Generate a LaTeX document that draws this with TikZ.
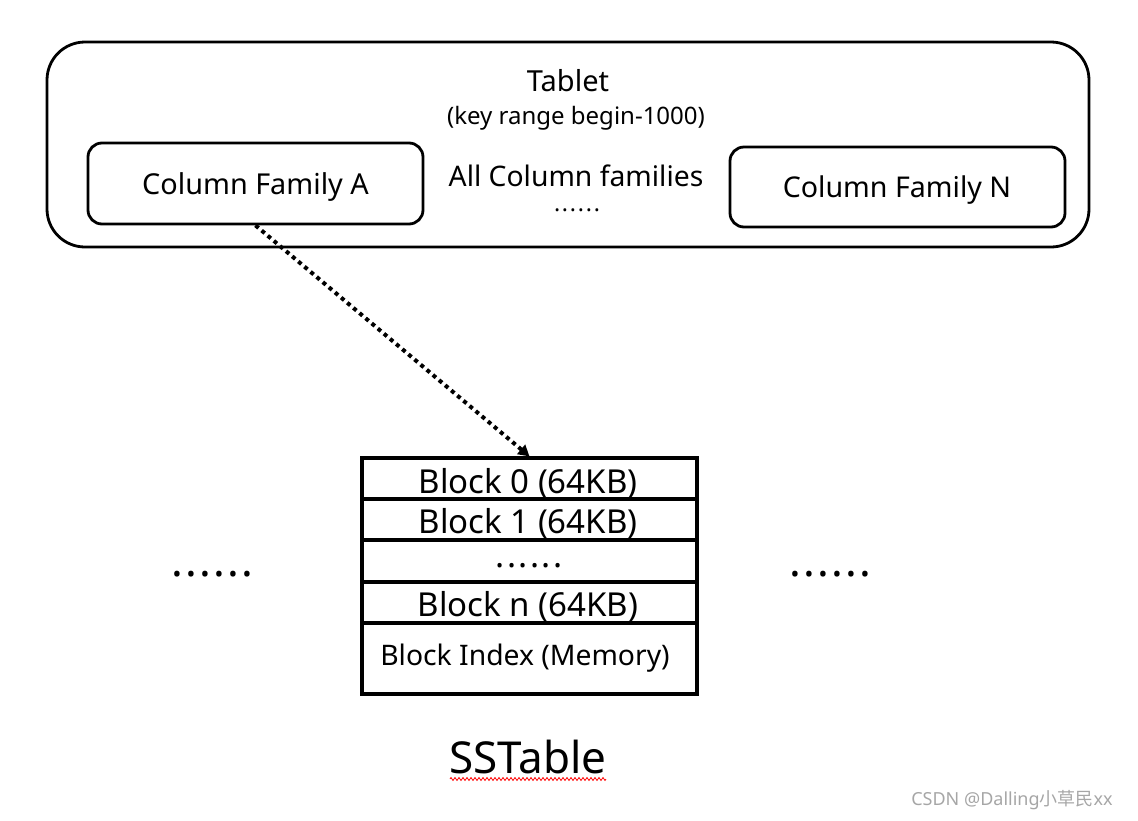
\documentclass[tikz,border=0pt]{standalone}
\usepackage{fontspec}
\setmainfont{Noto Sans}
\newfontfamily\cjkfont{Noto Sans CJK SC}
\usetikzlibrary{arrows.meta,decorations.pathmorphing,calc}
\newcommand{\spdots}[1]{.\kern#1.\kern#1.\kern#1.\kern#1.\kern#1.}
\begin{document}
\begin{tikzpicture}[x=1pt,y=-1pt,
  roundbox/.style={draw,line width=2.8pt,rounded corners=14pt,inner sep=0pt},
  rowbox/.style={draw,line width=3.2pt,minimum width=335pt,inner sep=0pt},
  capt/.style={inner sep=0pt,text depth=0pt,text height=#1},
  dotsline/.style={inner sep=0pt,text depth=0pt,text height=0pt}]
\useasboundingbox (0,0) rectangle (1138,820);
% outer tablet
\node[draw,line width=2.8pt,rounded corners=38pt,minimum width=1042pt,minimum height=205pt,inner sep=0pt] (tablet) at (568,144.5) {};
\node[capt=20.7pt,font=\fontsize{29}{29}\selectfont] (tt) at (568,81.5) {Tablet};
\node[capt=17pt,font=\fontsize{24}{24}\selectfont] (kr) at (576,116) {(key range begin-1000)};
\node[roundbox,minimum width=335pt,minimum height=81pt] (cfA) at (255.5,183.5) {};
\node[capt=20.5pt,font=\fontsize{28.8}{29}\selectfont] (cfAt) at (255.5,184) {Column Family A};
\node[roundbox,minimum width=335pt,minimum height=80pt] (cfN) at (897.5,187) {};
\node[capt=20.4pt,font=\fontsize{28.6}{29}\selectfont] (cfNt) at (897,187.5) {Column Family N};
\node[capt=20.2pt,font=\fontsize{28.3}{29}\selectfont] (acf) at (576,176) {All Column families};
\node[dotsline,font=\fontsize{23}{23}\selectfont] (acfd) at (577,211) {\spdots{1.8pt}};
% SSTable
\node[rowbox,minimum height=41pt] (b0) at (529.5,478.5) {};
\node[rowbox,minimum height=41pt] (b1) at (529.5,519.5) {};
\node[rowbox,minimum height=42pt] (bd) at (529.5,561) {};
\node[rowbox,minimum height=41pt] (bn) at (529.5,602.5) {};
\node[rowbox,minimum height=71pt] (bi) at (529.5,658.5) {};
\node[capt=23.6pt,font=\fontsize{33}{33}\selectfont] (b0t) at (528,481.5) {Block 0 (64KB)};
\node[capt=23.6pt,font=\fontsize{33}{33}\selectfont] (b1t) at (528,521.5) {Block 1 (64KB)};
\node[dotsline,font=\fontsize{34}{34}\selectfont\bfseries] (bdt) at (529,567) {\spdots{2.4pt}};
\node[capt=23.6pt,font=\fontsize{33}{33}\selectfont] (bnt) at (528,605) {Block n (64KB)};
\node[capt=20.2pt,font=\fontsize{28.3}{28}\selectfont] (bit) at (525,655) {Block Index (Memory)};
\node[capt=31.4pt,font=\fontsize{44}{44}\selectfont] (sst) at (528,757.5) {SSTable};
\draw[red,line width=0.8pt,decorate,decoration={zigzag,amplitude=1.5pt,segment length=4pt}] (450,779) -- (606,779);
% side dots
\node[dotsline,font=\fontsize{44}{44}\selectfont\bfseries] (ld) at (212,576) {\spdots{2.2pt}};
\node[dotsline,font=\fontsize{44}{44}\selectfont\bfseries] (rd) at (830,576) {\spdots{2.2pt}};
% arrow
\draw[line width=4pt,dash pattern=on 4pt off 4pt,-{Triangle[length=11pt,width=12pt]}] (cfA.south) -- (b0.north);
% watermark
\node[inner sep=0pt,text=black!35,font=\fontsize{18}{18}\selectfont] (wm) at (1012,800) {CSDN @Dalling\cjkfont 小草民\normalfont xx};
\end{tikzpicture}
\end{document}
